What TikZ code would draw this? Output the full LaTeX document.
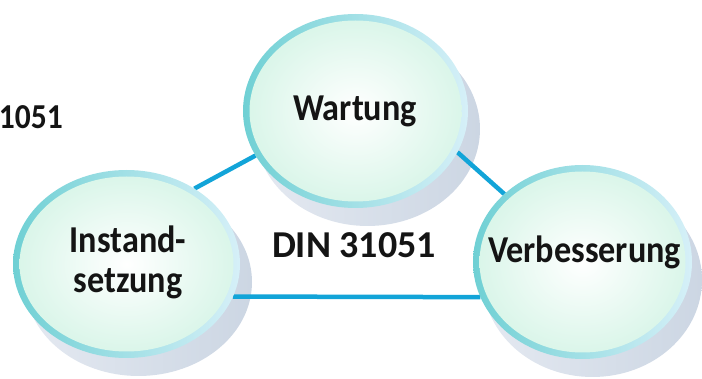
\documentclass[tikz,border=0pt]{standalone}
\usepackage{fontspec}
\setmainfont{Carlito}[FakeStretch=0.9]
\newfontfamily\digitfont{Carlito}
\usetikzlibrary{shapes.geometric}
\definecolor{ringL}{HTML}{6FD0D4}
\definecolor{ringR}{HTML}{D6F0F8}
\definecolor{mint}{HTML}{D8F5E8}
\definecolor{shadL}{HTML}{E4E9F1}
\definecolor{shadR}{HTML}{CCD6E3}
\definecolor{linec}{HTML}{12A4D8}
\definecolor{txt}{HTML}{141414}
\pgfdeclarelayer{shadowlayer}
\pgfdeclarelayer{linelayer}
\pgfsetlayers{shadowlayer,linelayer,main}
\tikzset{
  bubble/.style 2 args={ellipse, minimum width=#1, minimum height=#2, inner sep=0pt, outer sep=0pt,
    left color=ringL, right color=ringR,
    path picture={\shade[inner color=white, outer color=mint] (path picture bounding box.center) ellipse [x radius=#1/2-6.5pt, y radius=#2/2-6.5pt];}},
  shadowell/.style={left color=shadL, right color=shadR},
  lbl/.style={font=\bfseries\fontsize{38}{40}\selectfont, text=txt, inner sep=0pt},
  conn/.style={draw=linec, line width=4.5pt}
}
\begin{document}
\begin{tikzpicture}[x=1pt,y=-1pt]
\useasboundingbox (0,0) rectangle (702,379);
% bubbles
\node[bubble={225pt}{194pt}] (w) at (355.5,111) {};
\node[bubble={227pt}{188pt}] (i) at (126.5,264) {};
\node[bubble={219pt}{194pt}] (v) at (582.5,262) {};
% shadows
\begin{pgfonlayer}{shadowlayer}
\shade[shadowell] ([shift={(12,18)}]w.center) ellipse [x radius=112.5pt, y radius=97pt];
\shade[shadowell] ([shift={(12,18)}]i.center) ellipse [x radius=113.5pt, y radius=94pt];
\shade[shadowell] ([shift={(10,18)}]v.center) ellipse [x radius=109.5pt, y radius=97pt];
\end{pgfonlayer}
% connectors
\begin{pgfonlayer}{linelayer}
\draw[conn] (i.48) -- (w.204);
\draw[conn] (w.-22) -- (v.139);
\draw[conn] (i.-17) -- (v.199);
\end{pgfonlayer}
% labels
\node[lbl, anchor=base] (wt) at (355,121) {Wartung};
\node[lbl, anchor=base] (vt) at (584.5,263) {Verbesserung};
\node[lbl, anchor=base, align=center] (it) at (128,293) {Instand-\\setzung};
\node[lbl, anchor=base, font=\digitfont\bfseries\fontsize{38}{40}\selectfont] (din) at (354,258) {DIN 31051};
\node[lbl, anchor=base east, font=\bfseries\fontsize{35}{36}\selectfont] (cut) at (63,129) {1051};
\end{tikzpicture}
\end{document}
